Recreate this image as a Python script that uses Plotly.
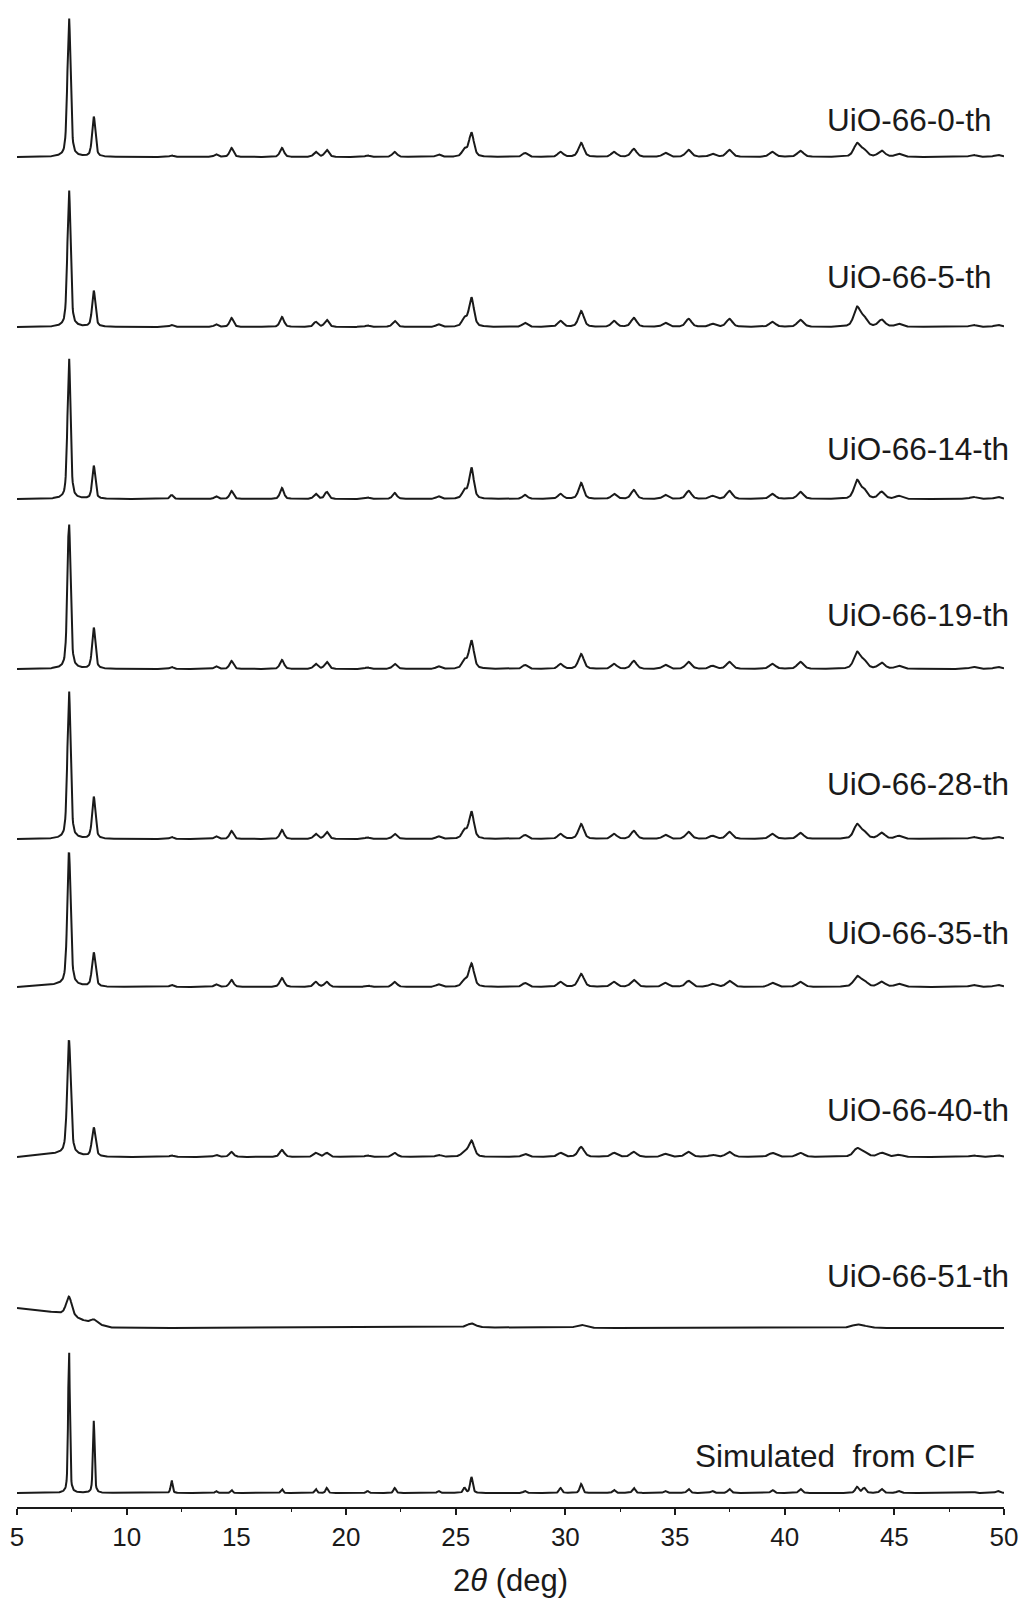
import numpy as np
import plotly.graph_objects as go

# ---- data: peak positions (2theta, deg) ----
peak_pos = [7.37, 8.50, 12.05, 14.08, 14.78, 17.08, 18.62, 19.12, 20.98, 22.22,
            24.22, 25.40, 25.72, 28.16, 29.78, 30.72, 32.22, 33.12, 34.56, 35.62,
            36.70, 37.48, 39.44, 40.72, 43.30, 43.62, 44.42, 45.20, 48.60, 49.72]

samples = ["UiO-66-0-th", "UiO-66-5-th", "UiO-66-14-th", "UiO-66-19-th", "UiO-66-28-th",
           "UiO-66-35-th", "UiO-66-40-th", "UiO-66-51-th", "Simulated  from CIF"]

# peak heights (same order as peak_pos)
h_0th = [140, 40, 1.5, 2.5, 9, 9, 5, 7, 1.5, 5, 2.5, 7, 24, 4, 5, 14, 5, 8, 4, 7, 3, 7, 5, 6, 13, 6, 6, 3, 2, 2]
h_5th = [138, 36, 2, 2.5, 9, 10, 5, 7, 1.5, 6, 2.5, 8, 29, 4, 6, 16, 6, 9, 4, 8, 3, 8, 5, 7, 19, 8, 7, 3, 2, 2]
h_14th = [142, 33, 4, 2.5, 8, 11, 5, 7, 1.5, 6, 2.5, 8, 31, 4, 5, 16, 5, 9, 4, 8, 3, 8, 5, 7, 18, 8, 7, 3, 2, 2]
h_19th = [146, 41, 2, 2.5, 8, 9, 5, 7, 1.5, 5, 2.5, 8, 28, 4, 5, 15, 5, 8, 4, 7, 3, 7, 5, 7, 16, 7, 6, 3, 2, 2]
h_28th = [149, 42, 2, 2.5, 8, 9, 5, 7, 1.5, 5, 2.5, 8, 27, 4, 5, 15, 5, 8, 4, 7, 3, 7, 5, 6, 14, 6, 6, 3, 2, 2]
h_35th = [133, 34, 2, 2.5, 7, 9, 5, 5, 1.5, 5, 2.5, 6, 23, 4, 5, 13, 5, 7, 4, 6, 3, 6, 4, 5, 10, 5, 5, 3, 2, 2]
h_40th = [114, 29, 1.5, 2, 5, 7, 4, 4, 1.5, 4, 2, 5, 16, 3, 4, 10, 4, 5, 3, 5, 2, 5, 4, 4, 8, 4, 4, 2, 1.5, 1.5]
h_51th = [19, 4, 0, 0, 0, 0, 0, 0, 0, 0, 0, 0, 4, 0, 0, 3, 0, 0, 0, 0, 0, 0, 0, 0, 3, 1, 0, 0, 0, 0]
h_sim = [146, 72, 13, 2, 3, 4, 4, 5, 2, 5, 2, 5, 16, 2, 5, 9, 3, 5, 2, 4, 2, 4, 3, 4, 6, 5, 4, 2, 1, 2]
heights = [h_0th, h_5th, h_14th, h_19th, h_28th, h_35th, h_40th, h_51th, h_sim]

# base peak widths (FWHM at low angle, deg)
fwhm = [0.17, 0.17, 0.16, 0.17, 0.17, 0.18, 0.19, 0.30, 0.09]

# vertical offsets of each pattern
offsets = [1350, 1180, 1008, 838, 668, 520, 350, 179, 14]

# low-angle background (2theta anchors and heights) per pattern
bg_x = [5.0, 6.0, 6.8, 7.3, 7.8, 8.2, 8.8, 9.3, 12.0, 20.0, 26.0, 32.0, 38.0, 44.0, 50.0]
bg_0th = [0] * 15
bg_35th = [0, 1, 2, 2, 1, 0.5, 0, 0, 0, 0, 0, 0, 0, 0, 0]
bg_40th = [0, 2, 3, 3, 1.5, 0.5, 0, 0, 0, 0, 0, 0, 0, 0, 0]
bg_51th = [20, 18, 15, 13, 9, 6, 3, 0.5, 0, 1, 0.5, 0, 0, 0, 0]
backgrounds = [bg_0th, bg_0th, bg_0th, bg_0th, bg_0th, bg_35th, bg_40th, bg_51th, bg_0th]

# label left edges (fraction of plot width) and heights above baseline
label_x = [0.8186, 0.8186, 0.8186, 0.8186, 0.8186, 0.8186, 0.8186, 0.8186, 0.6849]
label_dy = [37, 50, 50, 54, 55, 54, 47, 52, 37]

x_tick_vals = [5, 10, 15, 20, 25, 30, 35, 40, 45, 50]

# ---- build profiles ----
x = np.arange(5.0, 50.0001, 0.02)


def profile(heights_, w0):
    y = np.zeros_like(x)
    for c, h in zip(peak_pos, heights_):
        if h <= 0:
            continue
        w = w0 * (1 + 0.03 * (c - 7))
        hw = w / 2
        d = (x - c) / hw
        y += h * (0.5 / (1 + d * d) + 0.5 * np.exp(-np.log(2) * d * d))
    return y


FONT = "Liberation Sans, Arial, sans-serif"

fig = go.Figure()
for name, hs, w0, off, bg in zip(samples, heights, fwhm, offsets, backgrounds):
    y = off + np.interp(x, bg_x, bg) + profile(hs, w0)
    fig.add_trace(go.Scatter(x=x, y=y, mode="lines", name=name,
                             line=dict(color="#1a1a1a", width=2),
                             showlegend=False, hoverinfo="skip"))

annotations = []
for name, lx, off, dy in zip(samples, label_x, offsets, label_dy):
    annotations.append(dict(x=lx, y=off + dy, xref="paper", yref="y", text=name,
                            showarrow=False, xanchor="left", yanchor="middle",
                            font=dict(family=FONT, size=31.5, color="#1a1a1a")))

fig.update_layout(
    width=1022, height=1598,
    margin=dict(l=17, r=18, t=0, b=91),
    paper_bgcolor="white", plot_bgcolor="white",
    annotations=annotations,
    font=dict(family=FONT, color="#1a1a1a"),
)
fig.update_xaxes(
    range=[5, 50], tickvals=x_tick_vals, ticktext=[str(v) for v in x_tick_vals],
    showline=True, linecolor="#1a1a1a", linewidth=1.5,
    ticks="outside", ticklen=6, tickwidth=1.5, tickcolor="#1a1a1a",
    minor=dict(dtick=2.5, tick0=5, ticks="outside", ticklen=3, tickwidth=1.2, tickcolor="#1a1a1a"),
    tickfont=dict(size=26), showgrid=False, zeroline=False,
    title=dict(text="2<i>θ</i> (deg)", font=dict(size=31), standoff=18),
)
fig.update_yaxes(range=[0, 1507], visible=False, showgrid=False, zeroline=False)

fig.write_html("out.html")
